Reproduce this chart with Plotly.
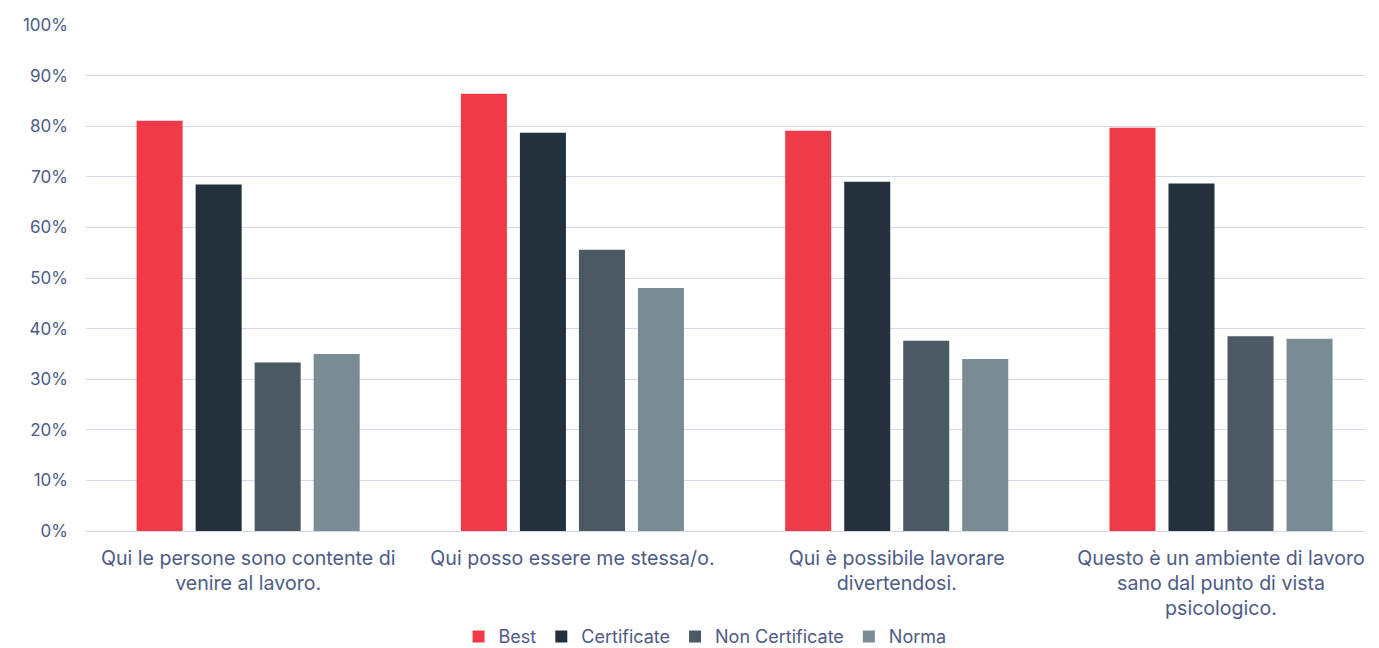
import plotly.graph_objects as go

categories = [
    "Qui le persone sono contente di<br>venire al lavoro.",
    "Qui posso essere me stessa/o.",
    "Qui è possibile lavorare<br>divertendosi.",
    "Questo è un ambiente di lavoro<br>sano dal punto di vista<br>psicologico.",
]
best = [81.1, 86.4, 79.1, 79.7]
certificate = [68.5, 78.7, 69.0, 68.7]
non_certificate = [33.3, 55.6, 37.6, 38.5]
norma = [35.0, 48.0, 34.0, 38.0]

series = [
    ("Best", best, "#ef3a47"),
    ("Certificate", certificate, "#22313c"),
    ("Non Certificate", non_certificate, "#4a5962"),
    ("Norma", norma, "#7a8c93"),
]

text_color = "#4d5b86"
grid_color = "#d3d9e6"
font_family = "Inter, 'Open Sans', sans-serif"

fig = go.Figure()
for name, vals, color in series:
    fig.add_trace(go.Bar(x=categories, y=vals, name=name, marker_color=color,
                         marker_line_width=0))

fig.update_layout(
    width=1371, height=640,
    margin=dict(l=78, r=14, t=17, b=117, autoexpand=False),
    paper_bgcolor="white", plot_bgcolor="white",
    barmode="group", bargap=0.272, bargroupgap=0.22,
    font=dict(family=font_family, size=17, color=text_color),
    legend=dict(orientation="h", x=0.484, xanchor="center", y=-0.209, yanchor="middle",
                font=dict(size=18, color=text_color), itemwidth=30,
                traceorder="normal"),
    showlegend=True,
)
fig.update_yaxes(range=[0, 100], dtick=10, ticksuffix="%", showgrid=True,
                 gridcolor=grid_color, gridwidth=1, zeroline=False,
                 tickfont=dict(size=17, color=text_color), ticks="",
                 ticklabelstandoff=17, showline=False, automargin=False)
fig.update_xaxes(range=[-0.5, 3.444], showline=True, linecolor=grid_color, linewidth=1,
                 tickfont=dict(size=19.6, color=text_color), ticks="",
                 ticklabelstandoff=9, automargin=False)

fig.write_html("out.html")
